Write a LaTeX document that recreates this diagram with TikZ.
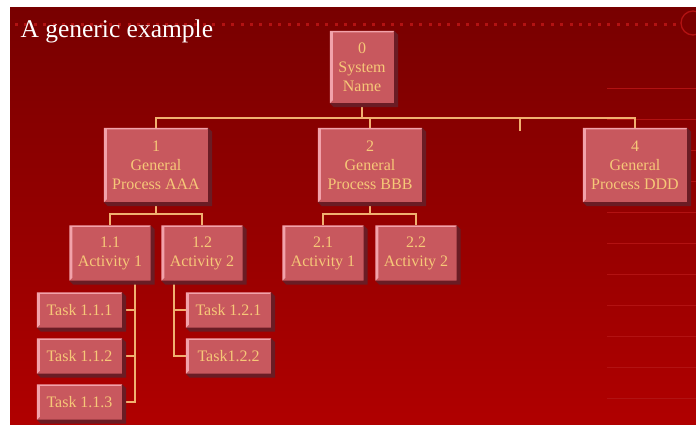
\documentclass[tikz,border=0pt]{standalone}
\usepackage{fontspec}
\setmainfont{Liberation Serif}
\definecolor{bgtop}{RGB}{120,0,0}
\definecolor{bgbot}{RGB}{176,0,0}
\definecolor{deco}{RGB}{178,18,18}
\definecolor{boxface}{RGB}{200,88,94}
\definecolor{boxlight}{RGB}{242,162,170}
\definecolor{boxdark}{RGB}{106,28,36}
\definecolor{boxtext}{RGB}{246,200,120}
\definecolor{linkcol}{RGB}{240,176,112}
\tikzset{
  box/.style={fill=boxface, text=boxtext, align=center, inner sep=0pt,
    font=\fontsize{16}{19}\selectfont},
  proc/.style={box, minimum width=104, minimum height=74},
  act/.style={box, minimum width=81, minimum height=55},
  task/.style={box, minimum width=85, minimum height=35},
  link/.style={draw=linkcol, line width=1.2pt},
  decoline/.style={draw=deco, line width=1pt}
}

\begin{document}
\begin{tikzpicture}[x=1pt,y=-1pt]
\useasboundingbox (0,0) rectangle (696,424);
\fill [white] (0,0) rectangle (696,424);
\shade [top color=bgtop, bottom color=bgbot] (10,7) rectangle (696,424);

% background decoration
\draw [decoline, line width=3pt, dash pattern=on 3pt off 6.4pt] (15,24) -- (676,24);
\draw [decoline, line width=1.3pt] (693,23) circle (12);
\foreach \ly in {88,119,...,398}
  \draw [decoline] (607,\ly) -- (696,\ly);

\node [anchor=base west, text=white, font=\fontsize{25.5}{30}\selectfont] (title) at (17,37) {A generic example};

% boxes
\node [box, minimum width=64, minimum height=72] (n0) at (362,67) {0\\System\\Name};
\node [proc] (n1) at (156,165) {1\\General\\Process AAA};
\node [proc] (n2) at (370,165) {2\\General\\Process BBB};
\node [proc] (n4) at (635,165) {4\\General\\Process DDD};
\node [act] (n11) at (110,253) {1.1\\Activity 1};
\node [act] (n12) at (202,253) {1.2\\Activity 2};
\node [act] (n21) at (323,253) {2.1\\Activity 1};
\node [act] (n22) at (416,253) {2.2\\Activity 2};
\node [task] (t111) at (79.5,310) {Task 1.1.1};
\node [task] (t112) at (79.5,356) {Task 1.1.2};
\node [task] (t113) at (79.5,402) {Task 1.1.3};
\node [task] (t121) at (228.5,310) {Task 1.2.1};
\node [task] (t122) at (228.5,356) {Task1.2.2};

% connectors
\coordinate (bar0) at (0,118);
\coordinate (bar1) at (0,214);
\coordinate (stub) at (520,131);
\draw [link] (n0.south) -- (n0.south |- bar0);
\draw [link] (n1.north) |- (n4.north |- bar0) -- (n4.north);
\draw [link] (n2.north) -- (n2.north |- bar0);
\draw [link] (stub) -- (stub |- bar0);
\draw [link] (n1.south) -- (n1.south |- bar1);
\draw [link] (n11.north) |- (n12.north |- bar1) -- (n12.north);
\draw [link] (n2.south) -- (n2.south |- bar1);
\draw [link] (n21.north) |- (n22.north |- bar1) -- (n22.north);
\draw [link] ([xshift=25pt]n11.south) |- (t111.east);
\draw [link] ([xshift=25pt]n11.south) |- (t112.east);
\draw [link] ([xshift=25pt]n11.south) |- (t113.east);
\draw [link] ([xshift=-28pt]n12.south) |- (t121.west);
\draw [link] ([xshift=-28pt]n12.south) |- (t122.west);

% bevel and shadow of every box
\foreach \n in {n0,n1,n2,n4,n11,n12,n21,n22,t111,t112,t113,t121,t122} {
  \fill [boxdark] (\n.north east) -- ([shift={(4,4)}]\n.north east)
    -- ([shift={(4,4)}]\n.south east) -- ([shift={(4,4)}]\n.south west)
    -- (\n.south west) -- (\n.south east) -- cycle;
  \fill [boxlight] (\n.north west) -- (\n.north east)
    -- ([shift={(-1.5,1.5)}]\n.north east) -- ([shift={(3,1.5)}]\n.north west)
    -- ([shift={(3,-3)}]\n.south west) -- (\n.south west) -- cycle;
}
\end{tikzpicture}
\end{document}
